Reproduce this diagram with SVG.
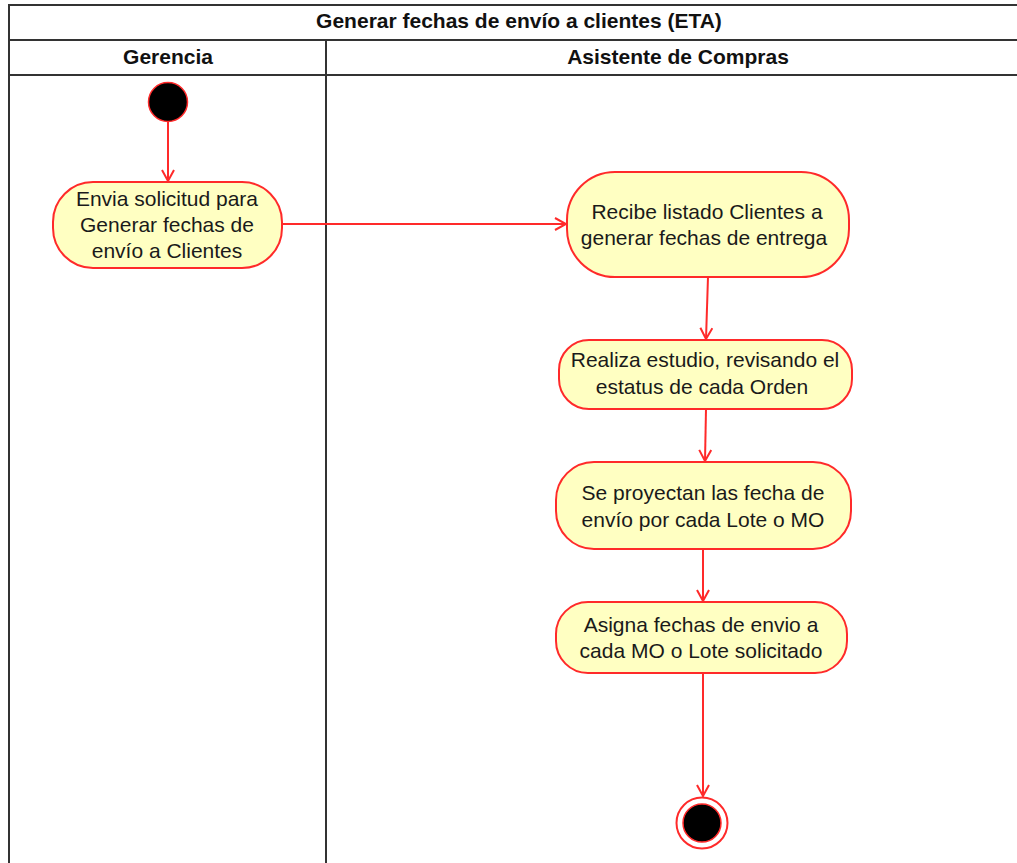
<svg xmlns="http://www.w3.org/2000/svg" width="1017" height="863" viewBox="0 0 1017 863">
  <style>
    .frame { fill: none; stroke: #333; stroke-width: 2; }
    .title { font-family: "Liberation Sans", Arial, sans-serif; font-weight: bold; font-size: 21px; fill: #111; text-anchor: middle; }
    .act { fill: #FFFFC2; stroke: #FF2A2A; stroke-width: 2; }
    .lbl { font-family: "Liberation Sans", Arial, sans-serif; font-size: 21px; fill: #1a1a1a; text-anchor: middle; }
    .flow { fill: none; stroke: #FF2A2A; stroke-width: 2; marker-end: url(#arrow); }
  </style>
  <defs>
    <marker id="arrow" markerWidth="14" markerHeight="14" refX="12" refY="7" orient="auto" markerUnits="userSpaceOnUse">
      <path d="M1,1 L12,7 L1,13" fill="none" stroke="#FF2A2A" stroke-width="2"/>
    </marker>
  </defs>
  <rect width="1017" height="863" fill="#fff"/>

  <!-- swimlane frame -->
  <g id="swimlanes">
    <path class="frame" d="M1030,5 H9 V870"/>
    <path class="frame" d="M9,40 H1030"/>
    <path class="frame" d="M9,75 H1030"/>
    <path class="frame" d="M326,40 V870"/>
    <text class="title" x="519" y="28">Generar fechas de envío a clientes (ETA)</text>
    <text class="title" x="168" y="64">Gerencia</text>
    <text class="title" x="678" y="64">Asistente de Compras</text>
  </g>

  <!-- connectors -->
  <g id="connectors">
    <path class="flow" d="M168,122 V181"/>
    <path class="flow" d="M282,224 H566"/>
    <path class="flow" d="M708,277 L706,339"/>
    <path class="flow" d="M706,409 L705,461"/>
    <path class="flow" d="M703,549 V601"/>
    <path class="flow" d="M703,673 V796"/>
  </g>

  <g id="start">
    <circle cx="168" cy="102" r="19.5" fill="#000" stroke="#FF2A2A" stroke-width="1.5"/>
  </g>

  <g id="envia-solicitud">
    <rect class="act" x="53" y="182" width="229" height="86" rx="40"/>
    <text class="lbl" x="167" y="206">Envia solicitud para</text>
    <text class="lbl" x="167" y="232">Generar fechas de</text>
    <text class="lbl" x="167" y="258">envío a Clientes</text>
  </g>

  <g id="recibe-listado">
    <rect class="act" x="567" y="172" width="282" height="105" rx="48"/>
    <text class="lbl" x="707" y="219">Recibe listado Clientes a</text>
    <text class="lbl" x="704" y="245">generar fechas de entrega</text>
  </g>

  <g id="realiza-estudio">
    <rect class="act" x="559" y="340" width="293" height="69" rx="30"/>
    <text class="lbl" x="705" y="367">Realiza estudio, revisando el</text>
    <text class="lbl" x="702" y="394">estatus de cada Orden</text>
  </g>

  <g id="proyectan-fechas">
    <rect class="act" x="556" y="462" width="295" height="87" rx="38"/>
    <text class="lbl" x="703" y="500">Se proyectan las fecha de</text>
    <text class="lbl" x="703" y="527">envío por cada Lote o MO</text>
  </g>

  <g id="asigna-fechas">
    <rect class="act" x="556" y="602" width="291" height="71" rx="32"/>
    <text class="lbl" x="701" y="632">Asigna fechas de envio a</text>
    <text class="lbl" x="701" y="658">cada MO o Lote solicitado</text>
  </g>

  <g id="end">
    <circle cx="702" cy="823" r="25.5" fill="#fff" stroke="#FF2A2A" stroke-width="2"/>
    <circle cx="702" cy="823" r="19" fill="#000" stroke="#FF2A2A" stroke-width="1.5"/>
  </g>
</svg>
